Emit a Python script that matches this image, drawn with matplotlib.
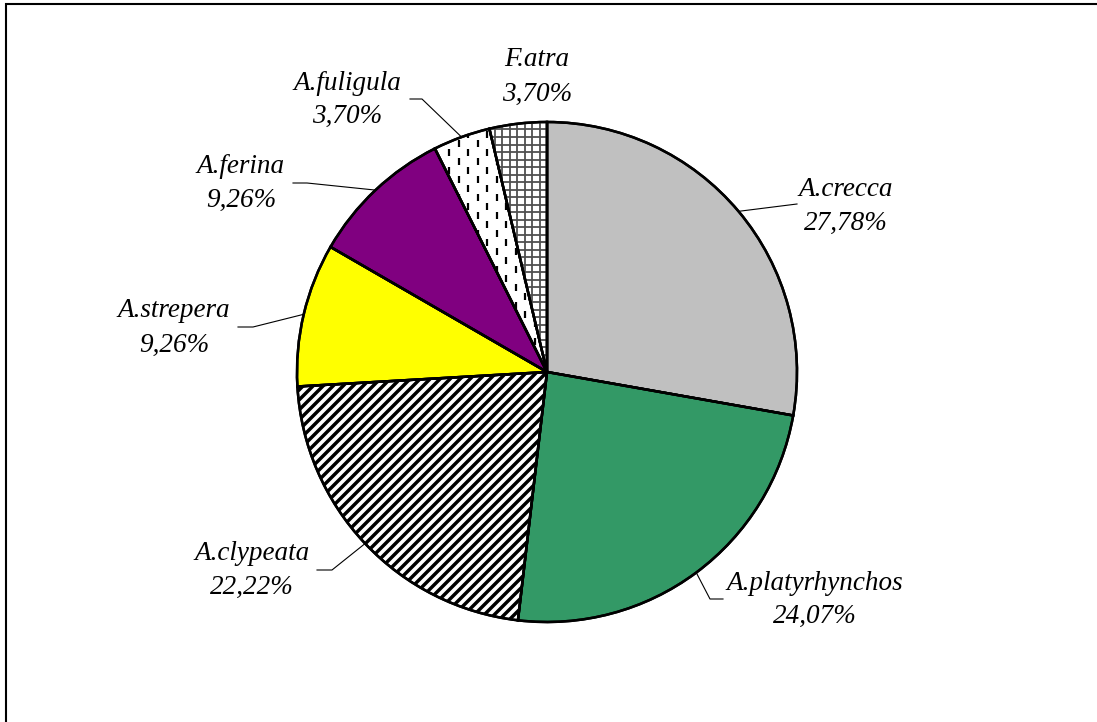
import numpy as np
import matplotlib
matplotlib.use('Agg')
import matplotlib.pyplot as plt
from matplotlib.collections import LineCollection
from matplotlib.patches import Rectangle, Wedge

# data: share of each species
species = ['A.crecca', 'A.platyrhynchos', 'A.clypeata', 'A.strepera',
           'A.ferina', 'A.fuligula', 'F.atra']
shares = [27.78, 24.07, 22.22, 9.26, 9.26, 3.70, 3.70]
labels_pct = ['27,78%', '24,07%', '22,22%', '9,26%', '9,26%', '3,70%', '3,70%']
fills = ['#C0C0C0', '#339966', 'white', '#FFFF00', '#800080', 'white', 'white']

W, H = 1097, 722
CX, CY, R = 547, 372, 250  # pie centre and radius in pixels


def px(x, y):
    # pixel position (from top-left) -> data coords, 1 unit = pie radius
    return (x - CX) / R, (CY - y) / R


fig = plt.figure(figsize=(W / 100, H / 100), dpi=100)
ax = fig.add_axes([0, 0, 1, 1])

wedges, _ = ax.pie(shares, startangle=90, counterclock=False, colors=fills,
                   radius=1, center=(0, 0),
                   wedgeprops=dict(edgecolor='black', linewidth=1.8))
ax.set_xlim(-CX / R, (W - CX) / R)
ax.set_ylim(-(H - CY) / R, CY / R)
ax.set_aspect('auto')
ax.axis('off')

s = 1 / R
# diagonal stripes for A.clypeata
segs = []
for c in np.arange(-2.2, 2.2, 10 * s):
    segs.append([(-1.2, -1.2 + c), (1.2, 1.2 + c)])
lc = LineCollection(segs, colors='black', linewidths=2.5, zorder=3)
ax.add_collection(lc)
lc.set_clip_path(wedges[2])

# staggered vertical dashes for A.fuligula
segs = []
for k, x in enumerate(np.arange(-1.0, 0.2, 9.5 * s)):
    off = 0 if k % 2 == 0 else 9 * s
    for y in np.arange(0.0, 1.1, 18 * s):
        segs.append([(x, y + off), (x, y + off + 7 * s)])
lc = LineCollection(segs, colors='black', linewidths=1.6, zorder=3)
ax.add_collection(lc)
lc.set_clip_path(wedges[5])

# grid for F.atra
segs = [[(x, -1.1), (x, 1.1)] for x in np.arange(0, -0.5, -7.5 * s)]
segs += [[(-0.5, y), (0.5, y)] for y in np.arange(1.0, 0.0, -7.5 * s)]
lc = LineCollection(segs, colors='#505050', linewidths=1.3, zorder=3)
ax.add_collection(lc)
lc.set_clip_path(wedges[6])

# redraw outlines on top of the patterns
for w in wedges:
    o = Wedge(w.center, w.r, w.theta1, w.theta2, facecolor='none',
              edgecolor='black', linewidth=1.8, zorder=4)
    ax.add_patch(o)

# label positions (text centre x, name baseline y, pct baseline y) in pixels
label_pos = [(846, 196, 230), (815, 590, 623), (252, 560, 594), (174, 317, 352),
             (241, 173, 207), (347, 90, 123), (537, 66, 101)]
# leader lines: elbow and end points in pixels (None = no leader)
leaders = [[(797, 204)], [(710, 599), (723, 599)], [(332, 570), (317, 570)],
           [(253, 327), (238, 327)], [(307, 183), (293, 183)],
           [(422, 99), (410, 99)], None]

font = dict(family='Liberation Serif', style='italic', size=19.5, color='black')
theta = 90.0
for i, name in enumerate(species):
    span = shares[i] / sum(shares) * 360
    mid = np.deg2rad(theta - span / 2)
    theta -= span
    x, yn, yp = label_pos[i]
    ax.text(*px(x, yn), name, ha='center', va='baseline', **font)
    ax.text(*px(x, yp), labels_pct[i], ha='center', va='baseline', **font)
    if leaders[i] is not None:
        pts = [(np.cos(mid), np.sin(mid))] + [px(*p) for p in leaders[i]]
        xs, ys = zip(*pts)
        ax.plot(xs, ys, color='black', linewidth=0.8, zorder=2)

# chart border
fig.add_artist(Rectangle((6 / W, -0.01), 1.1, (H - 4) / H + 0.01,
                         transform=fig.transFigure, fill=False,
                         edgecolor='black', linewidth=1.5))

plt.savefig('out.png', dpi=100)
